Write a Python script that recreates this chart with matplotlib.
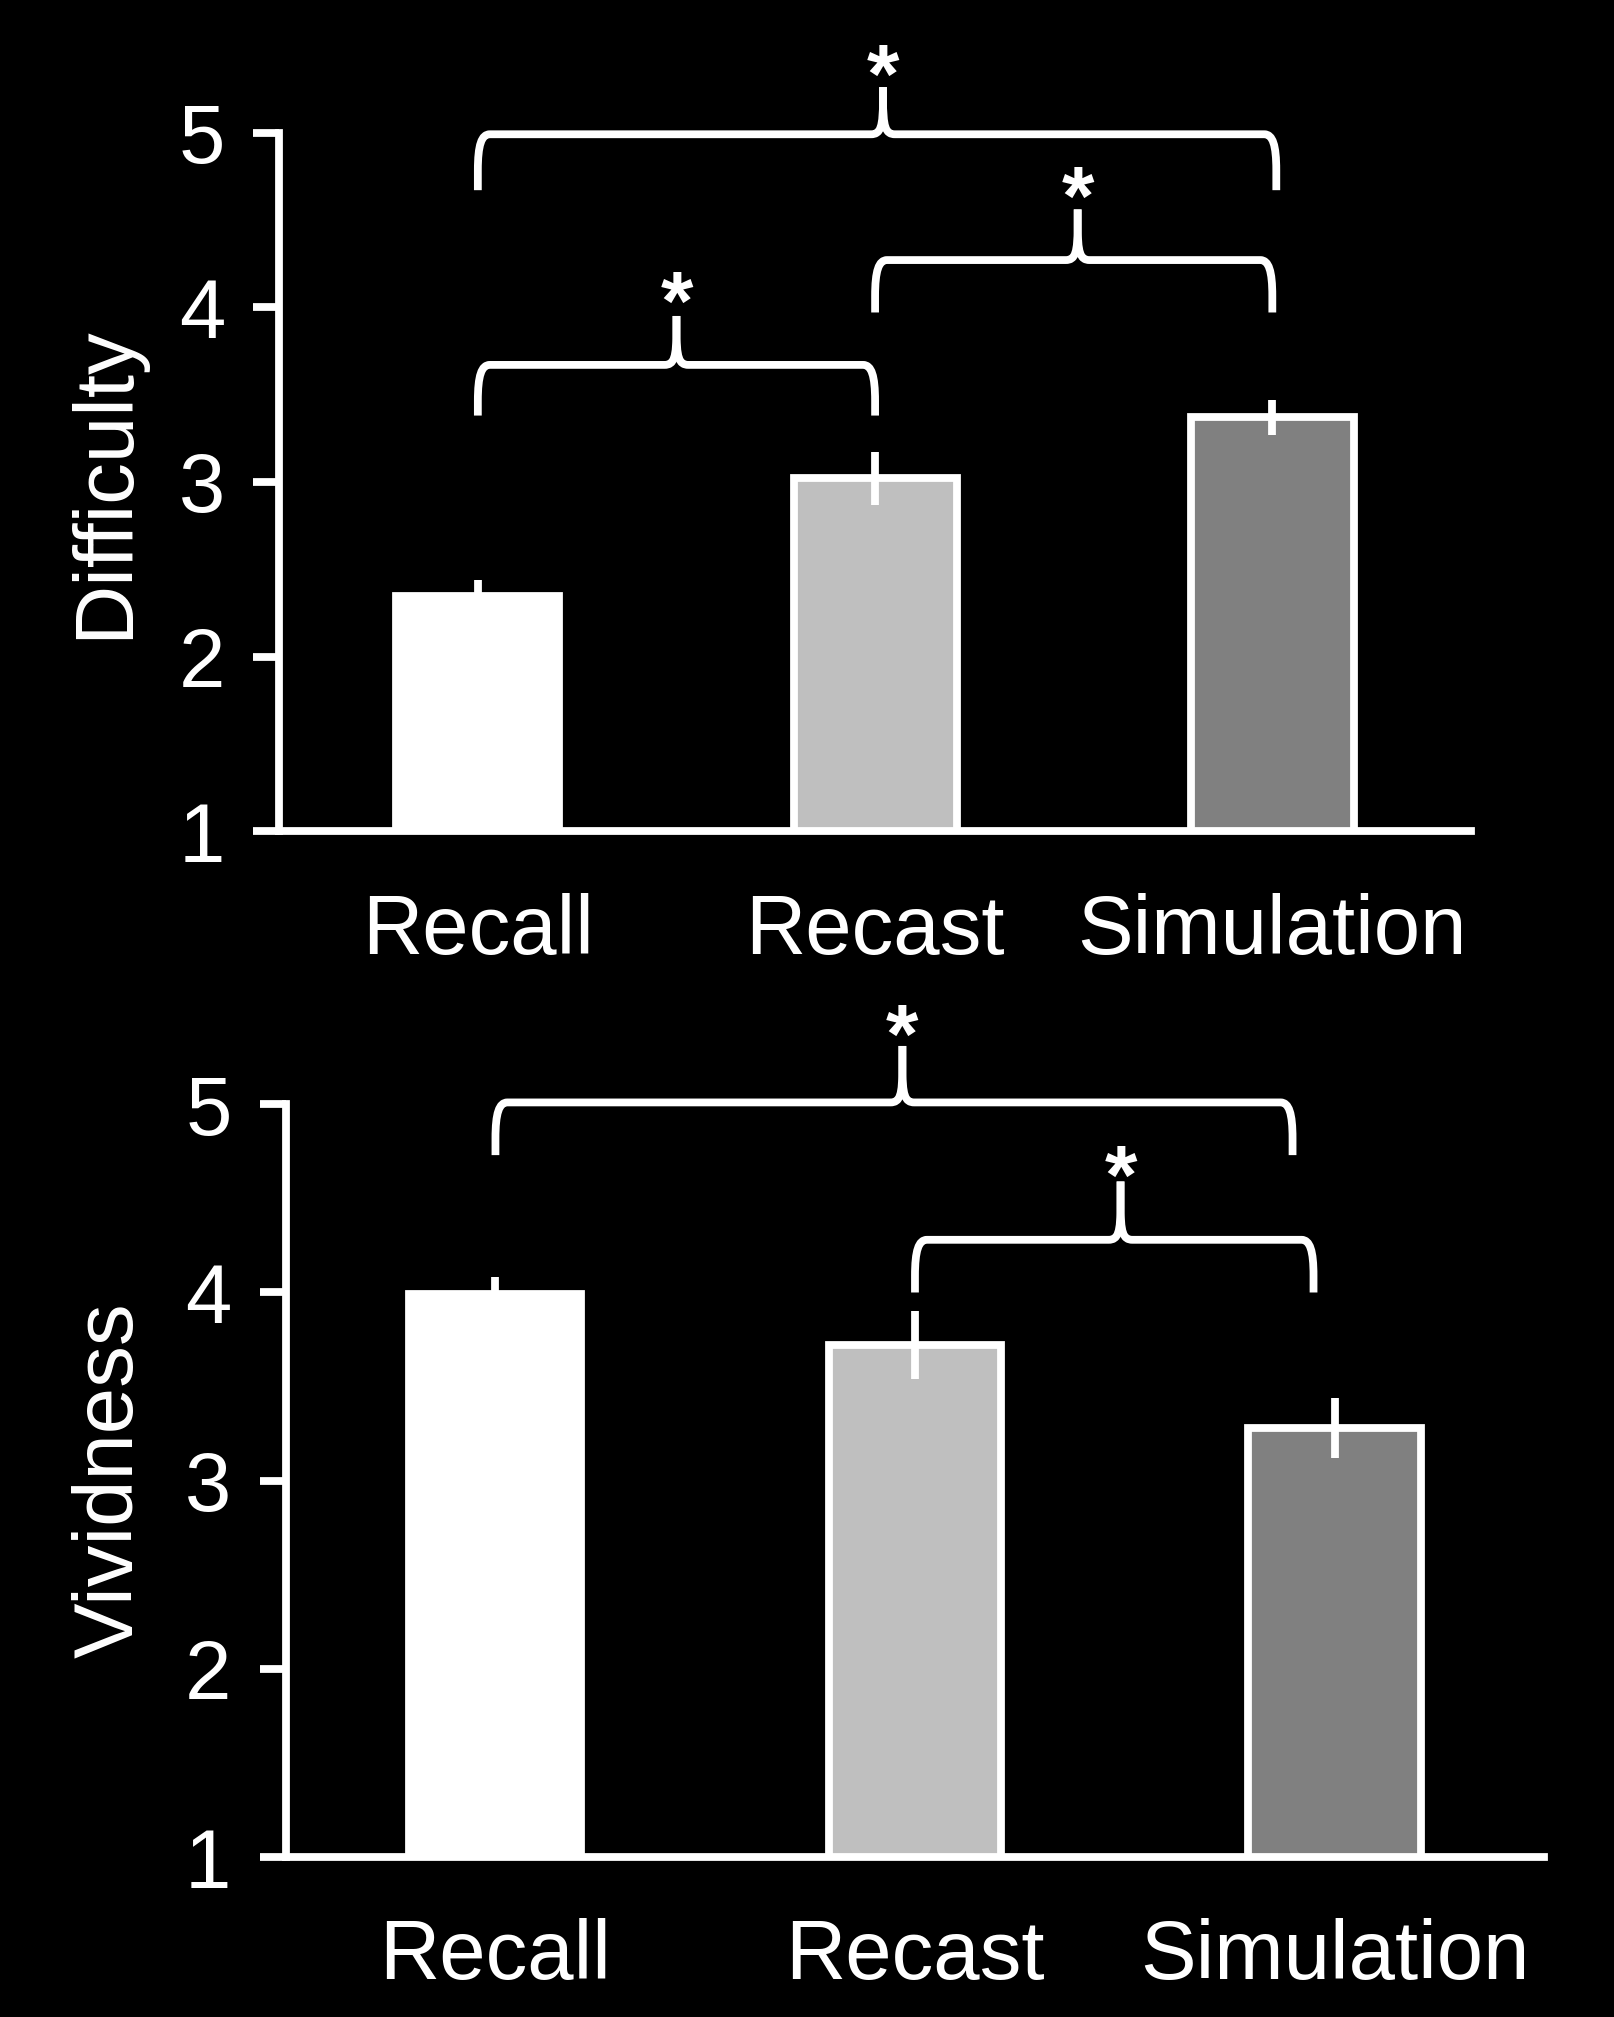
import numpy as np
import matplotlib
matplotlib.use("Agg")
import matplotlib.pyplot as plt
from matplotlib.path import Path
from matplotlib.patches import PathPatch

plt.rcParams['font.family'] = ['Liberation Sans', 'DejaVu Sans']

# --- data ---
conditions = ['Recall', 'Recast', 'Simulation']
difficulty = [2.35, 3.02, 3.37]
difficulty_err = [0.09, 0.15, 0.10]
vividness = [3.99, 3.72, 3.28]
vividness_err = [0.09, 0.18, 0.16]
bar_colors = ['#ffffff', '#bfbfbf', '#808080']
yticks = [1, 2, 3, 4, 5]

# brackets: (x_left, x_right, y_horizontal, y_end, y_peak, x_peak, y_star)
difficulty_brackets = [
    (0.0, 2.01, 4.99, 4.67, 5.26, 1.02, 5.45),
    (0.0, 1.0, 3.67, 3.38, 3.95, 0.50, 4.15),
    (1.0, 2.0, 4.27, 3.97, 4.56, 1.51, 4.75),
]
vividness_brackets = [
    (0.0, 1.90, 5.01, 4.73, 5.31, 0.97, 5.48),
    (1.0, 1.95, 4.28, 4.00, 4.59, 1.49, 4.73),
]

W, H, DPI = 1615, 2017, 100
FS = 60
LW = 5.6


def draw_brace(ax, fig, spec):
    x1, x2, yh, yend, ypk, xc, ystar = spec
    pos = ax.get_position()
    x0, x1lim = ax.get_xlim()
    y0, y1lim = ax.get_ylim()
    # data units per pixel
    kx = (x1lim - x0) / (pos.width * W)
    ky = (y1lim - y0) / (pos.height * H)
    r, c = 12 * kx, 36 * ky        # corner at the ends
    w, s = 12 * kx, 36 * ky        # spike at the centre
    for xe, sgn in ((x1, 1), (x2, -1)):
        verts = [(xe, yend), (xe, yh - c),
                 (xe, yh - 0.3 * c), (xe + sgn * 0.3 * r, yh), (xe + sgn * r, yh),
                 (xc - sgn * w, yh),
                 (xc - sgn * 0.2 * w, yh), (xc, yh + 0.2 * s), (xc, yh + s),
                 (xc, ypk)]
        codes = [Path.MOVETO, Path.LINETO,
                 Path.CURVE4, Path.CURVE4, Path.CURVE4,
                 Path.LINETO,
                 Path.CURVE4, Path.CURVE4, Path.CURVE4,
                 Path.LINETO]
        patch = PathPatch(Path(verts, codes), fill=False, edgecolor='white',
                          lw=LW, capstyle='butt', joinstyle='round', clip_on=False)
        ax.add_patch(patch)
    ax.annotate('*', xy=(xc, ystar), xytext=(0, -35), textcoords='offset points',
                ha='center', va='baseline', color='white', fontsize=FS,
                fontweight='bold', annotation_clip=False)


def panel(ax, fig, values, errors, ylabel, brackets, label_x):
    x = np.arange(len(conditions))
    ax.set_facecolor('black')
    ax.bar(x, values, width=0.41, color=bar_colors, edgecolor='white',
           linewidth=LW, zorder=2)
    ax.errorbar(x, values, yerr=errors, fmt='none', ecolor='white',
                elinewidth=LW, capsize=0, zorder=3)
    ax.set_xlim(-0.5, 2.5)
    ax.set_ylim(1, 5)
    ax.set_yticks(yticks)
    ax.set_xticks(x)
    ax.set_xticklabels(conditions)
    for side in ('top', 'right'):
        ax.spines[side].set_visible(False)
    for side in ('left', 'bottom'):
        ax.spines[side].set_color('white')
        ax.spines[side].set_linewidth(LW)
        ax.spines[side].set_zorder(4)
    ax.tick_params(axis='y', direction='out', length=19, width=LW,
                   colors='white', labelsize=FS, pad=20)
    ax.tick_params(axis='x', length=0, colors='white', labelsize=FS, pad=44)
    ax.text(label_x, 0.5, ylabel, transform=ax.transAxes, rotation=90,
            ha='center', va='center', color='white', fontsize=FS)
    for spec in brackets:
        draw_brace(ax, fig, spec)


fig = plt.figure(figsize=(W / DPI, H / DPI), dpi=DPI, facecolor='black')
ax1 = fig.add_axes([0.1729, 0.5878, 0.7379, 0.3465])
ax2 = fig.add_axes([0.1769, 0.0793, 0.7793, 0.3732])

panel(ax1, fig, difficulty, difficulty_err, 'Difficulty', difficulty_brackets, -0.146)
panel(ax2, fig, vividness, vividness_err, 'Vividness', vividness_brackets, -0.139)

fig.savefig('out.png', dpi=DPI, facecolor='black')
